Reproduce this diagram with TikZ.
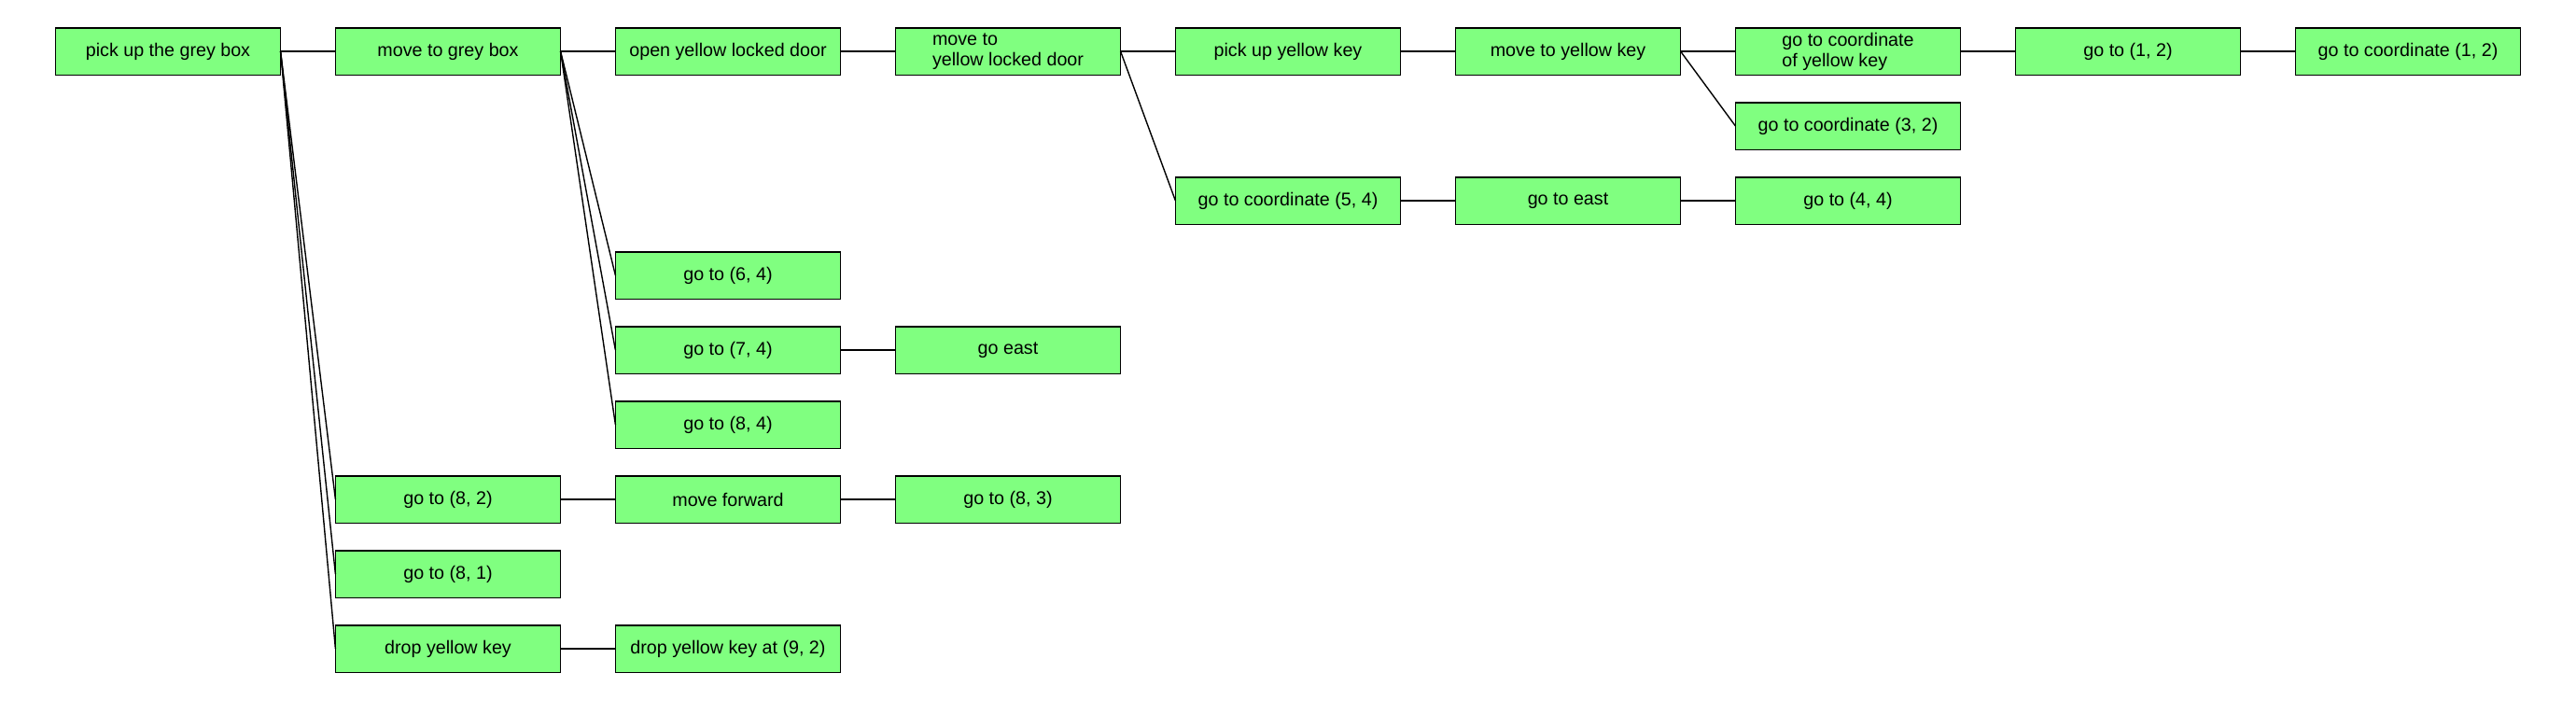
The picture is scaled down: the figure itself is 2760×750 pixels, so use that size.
\documentclass[tikz,border=0pt]{standalone}
\usepackage{fontspec}
\setmainfont{Liberation Sans}
\definecolor{boxgreen}{HTML}{80FF80}
\begin{document}
\begin{tikzpicture}[x=0.01cm,y=-0.01cm,
  task/.style={draw=black, line width=0.3pt, fill=boxgreen, minimum width=2.4cm, minimum height=0.5cm,
    inner sep=0pt, align=left, font=\fontsize{5.6}{6.3}\selectfont},
  link/.style={draw=black, line width=0.4pt}]
\useasboundingbox (0,0) rectangle (2760,750);
% row 0
\node[task] (a0) at (180,55) {pick up the grey box};
\node[task] (a1) at (480,55) {move to grey box};
\node[task] (a2) at (780,55) {open yellow locked door};
\node[task] (a3) at (1080,55) {move to\\yellow locked door};
\node[task] (a4) at (1380,55) {pick up yellow key};
\node[task] (a5) at (1680,55) {move to yellow key};
\node[task] (a6) at (1980,55) {go to coordinate\\of yellow key};
\node[task] (a7) at (2280,55) {go to (1, 2)};
\node[task] (a8) at (2580,55) {go to coordinate (1, 2)};
% row 1
\node[task] (b6) at (1980,135) {go to coordinate (3, 2)};
% row 2
\node[task] (c4) at (1380,215) {go to coordinate (5, 4)};
\node[task] (c5) at (1680,215) {go to east};
\node[task] (c6) at (1980,215) {go to (4, 4)};
% rows 3-5
\node[task] (d2) at (780,295) {go to (6, 4)};
\node[task] (e2) at (780,375) {go to (7, 4)};
\node[task] (e3) at (1080,375) {go east};
\node[task] (f2) at (780,455) {go to (8, 4)};
% rows 6-8
\node[task] (g1) at (480,535) {go to (8, 2)};
\node[task] (g2) at (780,535) {move forward};
\node[task] (g3) at (1080,535) {go to (8, 3)};
\node[task] (h1) at (480,615) {go to (8, 1)};
\node[task] (i1) at (480,695) {drop yellow key};
\node[task] (i2) at (780,695) {drop yellow key at (9, 2)};
% connectors
\foreach \p/\c in {a0/a1, a0/g1, a0/h1, a0/i1,
                   a1/a2, a1/d2, a1/e2, a1/f2,
                   e2/e3, g1/g2, g2/g3, i1/i2,
                   a2/a3, a3/a4, a3/c4, a4/a5,
                   a5/a6, a5/b6, a6/a7, a7/a8,
                   c4/c5, c5/c6}
  \draw[link] (\p.east) -- (\c.west);
\end{tikzpicture}
\end{document}
